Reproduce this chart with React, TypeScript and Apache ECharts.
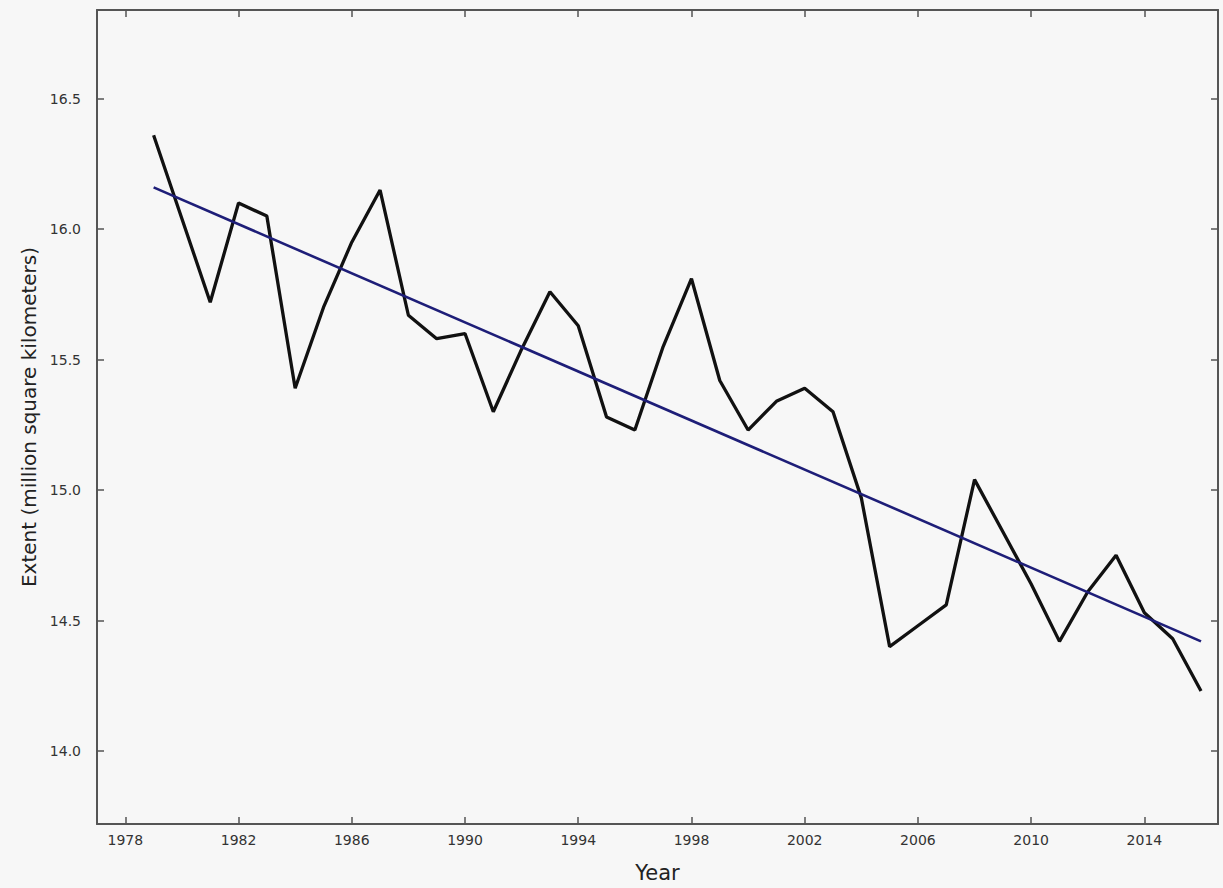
import React, { useEffect, useRef } from "react";
import * as echarts from "echarts";

const years = [
  1979, 1980, 1981, 1982, 1983, 1984, 1985, 1986, 1987, 1988, 1989, 1990, 1991,
  1992, 1993, 1994, 1995, 1996, 1997, 1998, 1999, 2000, 2001, 2002, 2003, 2004,
  2005, 2006, 2007, 2008, 2009, 2010, 2011, 2012, 2013, 2014, 2015, 2016,
];
const extent = [
  16.36, 16.04, 15.72, 16.1, 16.05, 15.39, 15.7, 15.95, 16.15, 15.67, 15.58,
  15.6, 15.3, 15.54, 15.76, 15.63, 15.28, 15.23, 15.55, 15.81, 15.42, 15.23,
  15.34, 15.39, 15.3, 14.97, 14.4, 14.48, 14.56, 15.04, 14.84, 14.64, 14.42,
  14.61, 14.75, 14.53, 14.43, 14.23,
];
const trendYears = [1979, 2016];
const trendValues = [16.16, 14.42];
const xTickLabels = [1978, 1982, 1986, 1990, 1994, 1998, 2002, 2006, 2010, 2014];
const yTickLabels = [14.0, 14.5, 15.0, 15.5, 16.0, 16.5];

export default function App() {
  const ref = useRef<HTMLDivElement>(null);
  useEffect(() => {
    document.body.style.margin = "0";
    document.body.style.background = "#f7f7f7";
    const chart = echarts.init(ref.current!, null, { renderer: "svg" });
    const axisLine = { show: true, lineStyle: { color: "#555", width: 2 } };
    const tickStyle = { inside: true, length: 7, lineStyle: { color: "#555", width: 1.5 } };
    chart.setOption({
      animation: false,
      backgroundColor: "#f7f7f7",
      textStyle: { fontFamily: "DejaVu Sans" },
      grid: { left: 97, right: 5, top: 10, bottom: 61, containLabel: false },
      xAxis: [
        {
          type: "value",
          min: 1977,
          max: 2016.6,
          name: "Year",
          nameLocation: "middle",
          nameGap: 38,
          nameTextStyle: { fontSize: 21, color: "#222" },
          axisLine,
          axisTick: { ...tickStyle, customValues: xTickLabels },
          axisLabel: {
            customValues: xTickLabels,
            fontSize: 14,
            color: "#333",
            margin: 9,
            formatter: (v: number) => String(v),
          },
          splitLine: { show: false },
        },
        {
          type: "value",
          position: "top",
          min: 1977,
          max: 2016.6,
          axisLine,
          axisTick: { ...tickStyle, customValues: xTickLabels },
          axisLabel: { show: false },
          splitLine: { show: false },
        },
      ],
      yAxis: [
        {
          type: "value",
          min: 13.72,
          max: 16.84,
          name: "Extent (million square kilometers)",
          nameLocation: "middle",
          nameGap: 58,
          nameTextStyle: { fontSize: 20, color: "#222" },
          axisLine,
          axisTick: { ...tickStyle, customValues: yTickLabels },
          axisLabel: {
            customValues: yTickLabels,
            fontSize: 14,
            color: "#333",
            margin: 16,
            formatter: (v: number) => v.toFixed(1),
          },
          splitLine: { show: false },
        },
        {
          type: "value",
          position: "right",
          min: 13.72,
          max: 16.84,
          axisLine,
          axisTick: { ...tickStyle, customValues: yTickLabels },
          axisLabel: { show: false },
          splitLine: { show: false },
        },
      ],
      series: [
        {
          type: "line",
          name: "Extent",
          data: years.map((y, i) => [y, extent[i]]),
          showSymbol: false,
          lineStyle: { color: "#111", width: 3.3 },
          z: 2,
        },
        {
          type: "line",
          name: "Trend",
          data: trendYears.map((y, i) => [y, trendValues[i]]),
          showSymbol: false,
          lineStyle: { color: "#1e1e78", width: 2.6 },
          z: 3,
        },
      ],
    });
    return () => chart.dispose();
  }, []);
  return (
    <div
      ref={ref}
      style={{ position: "absolute", left: 0, top: 0, width: 1223, height: 888 }}
    />
  );
}
